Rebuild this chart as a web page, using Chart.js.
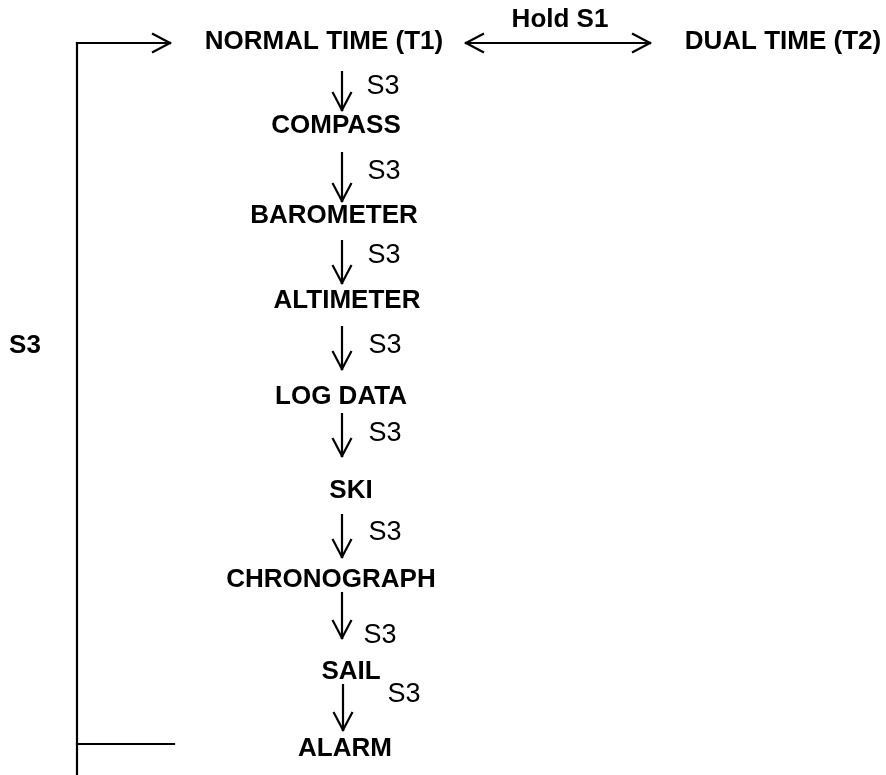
<!DOCTYPE html>
<html>
<head>
<meta charset="utf-8">
<script src="https://cdn.jsdelivr.net/npm/chart.js@4/dist/chart.umd.min.js"></script>
<style>
body{margin:0;background:#fff;}
#wrap{width:886px;height:775px;}
</style>
</head>
<body>
<div id="wrap"><canvas id="flow" width="886" height="775"></canvas></div>
<script>
// modes, in order, with where each label sits
const states = ['NORMAL TIME (T1)','COMPASS','BAROMETER','ALTIMETER','LOG DATA','SKI','CHRONOGRAPH','SAIL','ALARM'];
const stateX = [324,336,334,347,341,351,331,351,345];
const stateY = [42,126,216,301,397,491,580,672,749];

// S3 step arrows between modes
const stepKey = 'S3';
const arrowX = [342,342,342,342,342,342,342,343];
const arrowTop = [72,153,241,327,414,515,593,685];
const arrowBottom = [110,201,283,369,456,557,638,730];
const keyX = [383,384,384,385,385,385,380,404];
const keyY = [87,172,256,346,434,533,636,695];

// dual time branch
const dualLabel = 'DUAL TIME (T2)';
const dualX = 783;
const holdLabel = 'Hold S1';
const holdX = 560, holdY = 20;
const holdArrow = [466,650];

// loop back line
const loopX = 77;
const loopTop = 43, loopBottom = 775;
const loopEnd = [170,174]; // top arrow tip, bottom stub end
const loopJoinY = 744;
const loopKey = 'S3';
const loopKeyX = 25, loopKeyY = 346;

let segs = [];
function seg(x1,y1,x2,y2){ segs.push([{x:x1,y:y1},{x:x2,y:y2}]); }
function headDown(x,y){ seg(x-9,y-17,x,y); seg(x,y,x+9,y-17); }
function headRight(x,y){ seg(x-17,y-9,x,y); seg(x,y,x-17,y+9); }
function headLeft(x,y){ seg(x+17,y-9,x,y); seg(x,y,x+17,y+9); }

for(let i=0;i<arrowX.length;i++){
  seg(arrowX[i],arrowTop[i],arrowX[i],arrowBottom[i]);
  headDown(arrowX[i],arrowBottom[i]);
}
seg(holdArrow[0],stateY[0]+1,holdArrow[1],stateY[0]+1);
headLeft(holdArrow[0],stateY[0]+1);
headRight(holdArrow[1],stateY[0]+1);

seg(loopX,loopTop,loopX,loopBottom);
seg(loopX,loopTop,loopEnd[0],loopTop);
headRight(loopEnd[0],loopTop);
seg(loopX,loopJoinY,loopEnd[1],loopJoinY);

let datasets = segs.map(s=>({
  data:s,
  showLine:true,
  borderColor:'#000',
  borderWidth:2.2,
  pointRadius:0,
  borderCapStyle:'square'
}));

const textPlugin = {
  id:'texts',
  afterDatasetsDraw(chart){
    const c = chart.ctx;
    const sx = chart.scales.x, sy = chart.scales.y;
    c.save();
    c.fillStyle = '#000';
    c.textAlign = 'center';
    c.textBaseline = 'middle';
    c.font = 'bold 26px "Liberation Sans", Arial, sans-serif';
    states.forEach((s,i)=>{
      c.fillText(s, sx.getPixelForValue(stateX[i]), sy.getPixelForValue(stateY[i]));
    });
    c.fillText(dualLabel, sx.getPixelForValue(dualX), sy.getPixelForValue(stateY[0]));
    c.fillText(holdLabel, sx.getPixelForValue(holdX), sy.getPixelForValue(holdY));
    c.fillText(loopKey, sx.getPixelForValue(loopKeyX), sy.getPixelForValue(loopKeyY));
    c.font = '27px "Liberation Sans", Arial, sans-serif';
    keyX.forEach((x,i)=>{
      c.fillText(stepKey, sx.getPixelForValue(x), sy.getPixelForValue(keyY[i]));
    });
    c.restore();
  }
};

new Chart(document.getElementById('flow'), {
  type:'scatter',
  data:{datasets:datasets},
  options:{
    responsive:false,
    animation:false,
    layout:{padding:0},
    plugins:{legend:{display:false},tooltip:{enabled:false}},
    scales:{
      x:{type:'linear',min:0,max:886,display:false},
      y:{type:'linear',min:0,max:775,reverse:true,display:false}
    }
  },
  plugins:[textPlugin]
});
</script>
</body>
</html>
